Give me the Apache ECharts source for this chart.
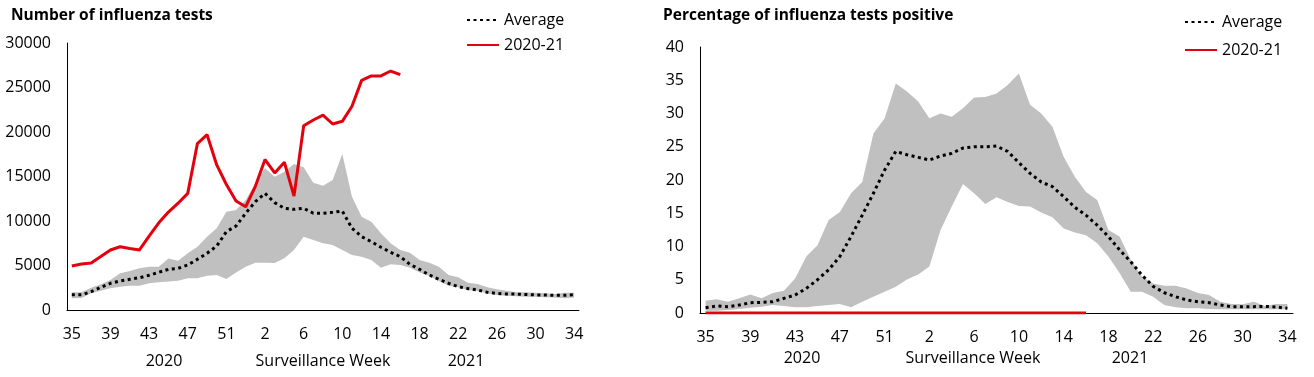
<!DOCTYPE html>
<html>
<head>
<meta charset="utf-8">
<script src="https://cdn.jsdelivr.net/npm/echarts@6/dist/echarts.min.js"></script>
<style>
  html, body { margin: 0; padding: 0; background: #fff; }
  #flu { width: 1314px; height: 377px; }
</style>
</head>
<body>
<div id="flu"></div>
<script>
// surveillance weeks, 2020 week 35 .. 2021 week 34
var weeks = [35, 36, 37, 38, 39, 40, 41, 42, 43, 44, 45, 46, 47, 48, 49, 50, 51, 52, 53,
  1, 2, 3, 4, 5, 6, 7, 8, 9, 10, 11, 12, 13, 14, 15, 16, 17, 18, 19, 20, 21, 22, 23, 24,
  25, 26, 27, 28, 29, 30, 31, 32, 33, 34];

// number of tests
var testsAvg = [1700, 1700, 2060, 2550, 3000, 3260, 3450, 3630, 3900, 4240, 4570, 4680, 5060, 5700, 6370, 7190, 8800, 9440, 10870,
  12170, 13100, 12060, 11430, 11310, 11430, 10870, 10870, 10980, 11120, 9180, 8240, 7680, 7050, 6490,
  5990, 5130, 4570, 3930, 3450, 3000, 2620, 2400, 2250, 1990, 1870, 1800, 1780, 1750, 1700, 1680, 1650, 1650, 1720];
var testsLow = [1310, 1350, 1870, 2170, 2440, 2620, 2730, 2730, 3000, 3110, 3190, 3300, 3560, 3560, 3860, 3930, 3480, 4200,
  4870, 5320, 5320, 5280, 5810, 6740, 8240, 7870, 7490, 7300, 6740, 6180, 5990, 5620, 4750, 5130,
  5060, 4750, 4200, 3820, 3260, 2730, 2550, 2250, 2130, 1870, 1690, 1600, 1550, 1500, 1500, 1420, 1400, 1310, 1400];
var testsHigh = [2000, 2000, 2500, 2900, 3370, 4120, 4380, 4680, 4870, 4870, 5800, 5540, 6370, 7110, 8240, 9180, 11050, 11240,
  12360, 14240, 15920, 14980, 15540, 16400, 16030, 14300, 13970, 14610, 17530, 12730, 10490, 9920, 8620, 7490,
  6740, 6440, 5620, 5320, 4870, 3930, 3670, 3070, 2920, 2550, 2320, 2170, 1990, 1990, 1950, 1870, 1800, 1950, 1950];
var tests2021 = [4950, 5170, 5280, 6000, 6740, 7110, 6900, 6750, 8300, 9800, 11000, 12000, 13100, 18700, 19700, 16300, 14100, 12250,
  11600, 13900, 16900, 15400, 16600, 12800, 20700, 21350, 21900, 20900, 21200, 22900, 25800, 26300, 26300, 26850, 26450];

// percentage positive
var posAvg = [0.8, 1.05, 0.95, 1.2, 1.55, 1.6, 1.7, 2.2, 2.7, 3.7, 5.0, 6.5, 8.5, 11.5, 14.7, 18.0, 21.5,
  24.3, 23.8, 23.4, 23.0, 23.6, 24.0, 24.8, 25.0, 25.0, 25.1, 24.3, 22.6, 21.0, 19.7, 19.0, 17.5, 15.9,
  14.7, 13.2, 11.5, 9.5, 7.7, 5.7, 4.0, 3.05, 2.45, 1.95, 1.7, 1.55, 1.2, 0.95, 0.95, 0.95, 1.0, 0.9, 0.7];
var posLow = [0.35, 0.35, 0.45, 0.6, 0.8, 0.95, 1.2, 1.05, 0.85, 0.85, 1.05, 1.2, 1.35, 0.85, 1.7, 2.45, 3.2,
  3.95, 5.05, 5.8, 7.0, 12.5, 16.0, 19.4, 18.0, 16.4, 17.4, 16.7, 16.1, 16.0, 15.1, 14.4, 12.7, 12.1,
  11.7, 10.5, 8.5, 6.0, 3.2, 3.2, 2.45, 1.2, 0.85, 0.7, 0.7, 0.6, 0.55, 0.55, 0.55, 0.55, 0.55, 0.55, 0.55];
var posHigh = [1.85, 2.05, 1.7, 2.2, 2.8, 2.2, 3.0, 3.35, 5.2, 8.5, 10.2, 14.0, 15.2, 18.0, 19.7, 27.0, 29.3,
  34.5, 33.3, 31.8, 29.3, 30.0, 29.5, 30.8, 32.4, 32.5, 33.0, 34.3, 36.0, 31.3, 30.0, 28.0, 23.5, 20.5,
  18.2, 17.0, 12.5, 11.5, 8.0, 5.5, 4.45, 4.1, 4.1, 3.7, 3.0, 2.7, 1.7, 1.35, 1.3, 1.7, 1.05, 1.35, 1.35];
var pos2021 = [0, 0, 0, 0, 0, 0, 0, 0, 0, 0, 0, 0, 0, 0, 0, 0, 0, 0,
  0, 0, 0, 0, 0, 0, 0, 0, 0, 0, 0, 0, 0, 0, 0, 0, 0];

var FONT = '"Open Sans"';
var chart = echarts.init(document.getElementById('flu'));

function xAx(grid) {
  return {
    type: 'category', gridIndex: grid, data: weeks, boundaryGap: true,
    axisLine: { lineStyle: { color: '#000', width: 1 } },
    axisTick: { show: false },
    axisLabel: { interval: 3, color: '#000', fontSize: 16, fontFamily: FONT, margin: 16 }
  };
}
function yAx(grid, max, step) {
  return {
    type: 'value', gridIndex: grid, min: 0, max: max, interval: step,
    axisLine: { show: true, lineStyle: { color: '#000', width: 1 } },
    axisTick: { show: false },
    splitLine: { show: false },
    axisLabel: { color: '#000', fontSize: 16, fontFamily: FONT, margin: 16, formatter: function (v) { return String(v); } }
  };
}
function band(idx, low, high, key) {
  return [
    { name: 'low' + key, type: 'line', xAxisIndex: idx, yAxisIndex: idx, stack: key, data: low,
      symbol: 'none', lineStyle: { opacity: 0 }, silent: true },
    { name: 'range' + key, type: 'line', xAxisIndex: idx, yAxisIndex: idx, stack: key,
      data: high.map(function (h, i) { return h - low[i]; }),
      symbol: 'none', lineStyle: { opacity: 0 }, areaStyle: { color: '#c0c0c0', opacity: 1 }, silent: true }
  ];
}
function avgLine(idx, data) {
  return { name: 'Average', type: 'line', xAxisIndex: idx, yAxisIndex: idx, data: data, symbol: 'none',
    lineStyle: { color: '#000', width: 3, type: [3, 3.5], cap: 'butt' }, itemStyle: { color: '#000' } };
}
function seasonLine(idx, data) {
  return { name: '2020-21', type: 'line', xAxisIndex: idx, yAxisIndex: idx, data: data, symbol: 'none',
    lineStyle: { color: '#e3000f', width: 3 }, itemStyle: { color: '#e3000f' }, z: 5 };
}
function legend(left, top, gap) {
  return {
    data: ['Average', '2020-21'], orient: 'vertical', left: left, top: top, padding: 0,
    itemWidth: 32, itemHeight: 14, itemGap: gap,
    itemStyle: { opacity: 0 },
    textStyle: { color: '#000', fontSize: 16, fontFamily: FONT, lineHeight: 20 }
  };
}
function label(x, y, text) {
  return { type: 'text', x: x, y: y,
    style: { text: text, fill: '#000', font: '16px ' + FONT, align: 'center', verticalAlign: 'middle' } };
}

chart.setOption({
  animation: false,
  title: [
    { text: 'Number of influenza tests', left: 11, top: 8, padding: 0,
      textStyle: { fontSize: 15.5, fontWeight: 'bold', fontFamily: FONT, color: '#000' } },
    { text: 'Percentage of influenza tests positive', left: 663, top: 8, padding: 0,
      textStyle: { fontSize: 15.5, fontWeight: 'bold', fontFamily: FONT, color: '#000' } }
  ],
  legend: [legend(466, 10, 5), legend(1184, 12, 8)],
  grid: [
    { left: 67, right: 735, top: 43, bottom: 67 },
    { left: 700, right: 21, top: 47, bottom: 64 }
  ],
  xAxis: [xAx(0), xAx(1)],
  yAxis: [yAx(0, 30000, 5000), yAx(1, 40, 5)],
  series: [].concat(
    band(0, testsLow, testsHigh, 'a'),
    [avgLine(0, testsAvg), seasonLine(0, tests2021)],
    band(1, posLow, posHigh, 'b'),
    [avgLine(1, posAvg), seasonLine(1, pos2021)]
  ),
  graphic: [
    label(164, 361, '2020'), label(323, 361, 'Surveillance Week'), label(466, 361, '2021'),
    label(802, 358, '2020'), label(973, 358, 'Surveillance Week'), label(1130, 358, '2021')
  ]
});
</script>
</body>
</html>
